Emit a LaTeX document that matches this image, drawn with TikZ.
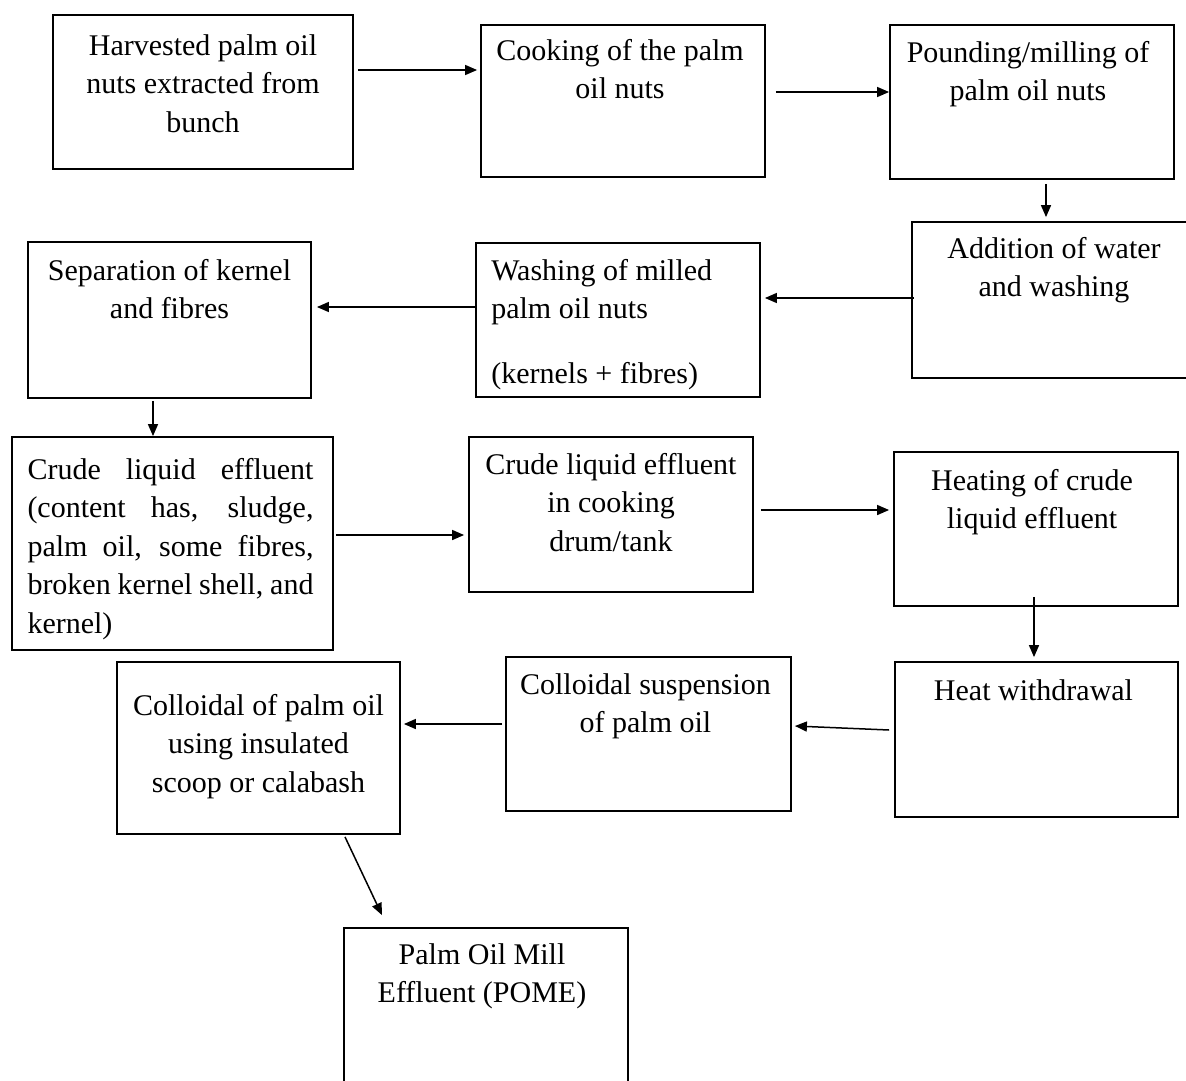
\documentclass[tikz,border=0pt]{standalone}
\usepackage{fontspec}
\setmainfont{Liberation Serif}
\usetikzlibrary{positioning,arrows.meta}

\begin{document}
\begin{tikzpicture}[x=1pt,y=-1pt,
    box/.style={draw,line width=1.8pt,minimum width=284pt,minimum height=154pt,inner sep=0pt},
    lbl/.style={inner sep=0pt,align=center,font=\fontsize{30}{38.5}\selectfont},
    flow/.style={line width=1.5pt,-{Triangle[length=12pt,width=10pt]}}]
  \useasboundingbox (0,0) rectangle (1186,1080);

  % first row
  \node[box,minimum width=300pt] (b1) at (203,92) {};
  \node[lbl,below=20pt of b1.north] (t1) {Harvested palm oil\\nuts extracted from\\bunch};
  \node[box,minimum height=152pt] (b2) at (623,101) {};
  \node[lbl,below=15pt of b2.north,xshift=-3pt] (t2) {Cooking of the palm\\oil nuts};
  \node[box] (b3) at (1032,102) {};
  \node[lbl,below=17pt of b3.north,xshift=-4pt] (t3) {Pounding/milling of\\palm oil nuts};

  % second row
  \node[box,minimum height=156pt] (b4) at (1054,300) {};
  \node[lbl,below=16pt of b4.north] (t4) {Addition of water\\and washing};
  \node[box] (b5) at (618,320) {};
  \node[lbl,align=left,below right=17pt and 16pt of b5.north west] (t5) {Washing of milled\\palm oil nuts\\[26pt](kernels + fibres)};
  \node[box,minimum width=283pt,minimum height=156pt] (b6) at (169.5,320) {};
  \node[lbl,below=18pt of b6.north] (t6) {Separation of kernel\\and fibres};

  % third row
  \node[box,minimum width=321pt,minimum height=213pt] (b7) at (172.5,543.5) {};
  \node[lbl,align=justify,text width=286pt,below=22pt of b7.north,xshift=-2pt] (t7)
    {Crude liquid effluent\linebreak (content has, sludge,\linebreak palm oil, some fibres,\linebreak broken kernel shell, and\linebreak kernel)};
  \node[box,minimum height=155pt] (b8) at (611,514.5) {};
  \node[lbl,below=17pt of b8.north] (t8) {Crude liquid effluent\\in cooking\\drum/tank};
  \node[box] (b9) at (1036,529) {};
  \node[lbl,below=18pt of b9.north,xshift=-4pt] (t9) {Heating of crude\\liquid effluent};

  % fourth row
  \node[box,minimum width=283pt,minimum height=155pt] (b10) at (1036.5,739.5) {};
  \node[lbl,below=18pt of b10.north,xshift=-3pt] (t10) {Heat withdrawal};
  \node[box,minimum width=285pt] (b11) at (648.5,734) {};
  \node[lbl,below=17pt of b11.north,xshift=-3pt] (t11) {Colloidal suspension\\of palm oil};
  \node[box,minimum width=283pt,minimum height=172pt] (b12) at (258.5,748) {};
  \node[lbl,below=33pt of b12.north] (t12) {Colloidal of palm oil\\using insulated\\scoop or calabash};

  % last box
  \node[box,minimum height=160pt] (b13) at (486,1008) {};
  \node[lbl,below=16pt of b13.north,xshift=-4pt] (t13) {Palm Oil Mill\\Effluent (POME)};

  % arrows
  \draw[flow] ([xshift=4pt,yshift=22pt]b1.east) -- ([xshift=-3pt,yshift=31pt]b2.west);
  \draw[flow] ([xshift=10pt,yshift=9pt]b2.east) -- ([yshift=10pt]b3.west);
  \draw[flow] ([xshift=14pt,yshift=-4pt]b3.south) -- ([xshift=-8pt,yshift=4pt]b4.north);
  \draw[flow] ([xshift=3pt,yshift=2pt]b4.west) -- ([xshift=4pt,yshift=22pt]b5.east);
  \draw[flow] ([yshift=13pt]b5.west) -- ([xshift=5pt,yshift=13pt]b6.east);
  \draw[flow] ([xshift=-16.5pt,yshift=-2pt]b6.south) -- ([xshift=-19.5pt]b7.north);
  \draw[flow] ([xshift=2pt,yshift=8.5pt]b7.east) -- ([xshift=-4pt,yshift=-20.5pt]b8.west);
  \draw[flow] ([xshift=7pt,yshift=4.5pt]b8.east) -- ([xshift=-4pt,yshift=19pt]b9.west);
  \draw[flow] ([xshift=-2pt,yshift=10pt]b9.south) -- ([xshift=-2.5pt,yshift=4pt]b10.north);
  \draw[flow] ([xshift=-5pt,yshift=9.5pt]b10.west) -- ([xshift=3pt,yshift=8pt]b11.east);
  \draw[flow] ([xshift=-3pt,yshift=10pt]b11.west) -- ([xshift=3pt,yshift=24pt]b12.east);
  \draw[flow] ([xshift=86.5pt,yshift=-2pt]b12.south) -- ([xshift=-104pt,yshift=12pt]b13.north);
\end{tikzpicture}
\end{document}
